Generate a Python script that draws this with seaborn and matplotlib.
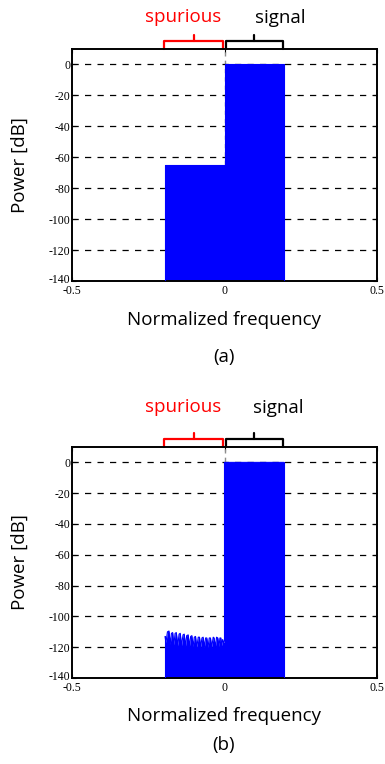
import numpy as np
import pandas as pd
import seaborn as sns
import matplotlib.pyplot as plt
from matplotlib.transforms import blended_transform_factory, ScaledTranslation

# band edges (normalized frequency) and levels in dB
band_lo = -0.195
band_hi = 0.195
floor_db = -140
signal_db = 0
spur_a_db = -65

# panel (b): ripple in the spurious band
ripple_f = [-0.195, -0.192, -0.187, -0.182, -0.178, -0.174, -0.170, -0.166, -0.162,
            -0.158, -0.153, -0.149, -0.145, -0.141, -0.136, -0.132, -0.128, -0.124,
            -0.119, -0.115, -0.111, -0.107, -0.103, -0.099, -0.095, -0.091, -0.086,
            -0.082, -0.078, -0.074, -0.070, -0.066, -0.062, -0.058, -0.054, -0.050,
            -0.046, -0.042, -0.037, -0.034, -0.030, -0.026, -0.022, -0.018, -0.015,
            -0.012, -0.009, -0.006, -0.003, 0.0]
ripple_db = [-113, -117, -110, -109.5, -118, -111, -110.5, -118.5, -111, -110.5,
             -119, -111.5, -111, -119, -112, -111.5, -119.5, -112.5, -112, -119.5,
             -113, -112.5, -119.5, -113.5, -113, -120, -113.5, -113.5, -120, -114,
             -113.5, -120, -114, -114, -120, -114, -114, -120, -113.5, -114,
             -120, -113.5, -114, -119.5, -114, -114, -119, -115, -117, -116]

yticks = [0, -20, -40, -60, -80, -100, -120, -140]
xticks = [-0.5, 0, 0.5]

sns.set_style("ticks")
plt.rcParams["font.family"] = ["DejaVu Sans"]
plt.rcParams["text.color"] = "black"
plt.rcParams["xtick.color"] = "black"
plt.rcParams["ytick.color"] = "black"
plt.rcParams["axes.edgecolor"] = "black"

W, H = 385, 764
fig = plt.figure(figsize=(W / 100, H / 100), dpi=100)


def px_axes(left, top, right, bottom):
    return fig.add_axes([left / W, 1 - bottom / H, (right - left) / W, (bottom - top) / H])


def spectrum_panel(ax, spur_f, spur_db):
    dfr = pd.DataFrame({
        "freq": list(spur_f) + [0.0, band_hi],
        "power": list(spur_db) + [signal_db, signal_db],
    })
    ax.axvline(0, color="0.55", ls=(0, (3, 3)), lw=1, zorder=1)
    for y in yticks[:-1]:
        ax.axhline(y, color="black", ls=(0, (5, 5)), lw=0.9, zorder=1)
    ax.fill_between(dfr["freq"], dfr["power"], floor_db,
                    color="#0000ff", lw=0, zorder=2)
    sns.lineplot(data=dfr, x="freq", y="power", ax=ax, color="#0000ff",
                 lw=0.8, sort=False, estimator=None, zorder=3)
    ax.plot([band_lo, band_lo], [floor_db, spur_db[0]], color="#0000ff", lw=0.8, zorder=3)
    ax.plot([band_hi, band_hi], [floor_db, signal_db], color="#0000ff", lw=0.8, zorder=3)
    ax.set_xlim(-0.5, 0.5)
    ax.set_ylim(floor_db, 10)
    ax.set_xticks(xticks)
    ax.set_xticklabels(["-0.5", "0", "0.5"])
    ax.set_yticks(yticks)
    ax.set_yticklabels([str(t) for t in yticks])
    ax.tick_params(direction="in", length=3, width=0.8, right=True, top=True,
                   labelsize=8.5, pad=1)
    ax.tick_params(axis="x", pad=3)
    for lab in ax.get_xticklabels() + ax.get_yticklabels():
        lab.set_fontfamily("Liberation Serif")
    # nudge the bottom y label up a little so it just clears "-0.5"
    low = ax.get_yticklabels()[-1]
    low.set_transform(low.get_transform() + ScaledTranslation(0, 3 / 100, fig.dpi_scale_trans))
    for s in ax.spines.values():
        s.set_linewidth(1.4)
        s.set_visible(True)
    ax.set_xlabel("")
    ax.set_ylabel("")

    tr = blended_transform_factory(ax.transData, ax.transAxes)
    h = 1.034
    for (x0, x1, xc), col in [((-0.200, -0.006, -0.100), "red"), ((0.004, 0.193, 0.098), "black")]:
        ax.plot([x0, x0, x1, x1], [1.0, h, h, 1.0], color=col, lw=1.6,
                transform=tr, clip_on=False, solid_joinstyle="round")
        ax.plot([xc, xc], [h, h + 0.028], color=col, lw=1.6, transform=tr, clip_on=False)


ax_a = px_axes(72, 49, 377, 281)
spectrum_panel(ax_a, [band_lo, 0.0], [spur_a_db, spur_a_db])
ax_b = px_axes(72, 447, 377, 678)
spectrum_panel(ax_b, ripple_f, ripple_db)

lab = dict(family="Open Sans", fontsize=13.5, color="black")


def ftxt(x, y, s, **kw):
    fig.text(x / W, 1 - y / H, s, ha="center", va="center", **{**lab, **kw})


ftxt(183, 17, "spurious", color="red")
ftxt(280, 18, "signal")
ftxt(224, 320, "Normalized frequency")
ftxt(224, 357, "(a)")
ftxt(20, 165, "Power [dB]", rotation=90)

ftxt(183, 407, "spurious", color="red")
ftxt(278, 408, "signal")
ftxt(224, 716, "Normalized frequency")
ftxt(224, 745, "(b)")
ftxt(20, 562, "Power [dB]", rotation=90)

plt.savefig("out.png", dpi=100)
